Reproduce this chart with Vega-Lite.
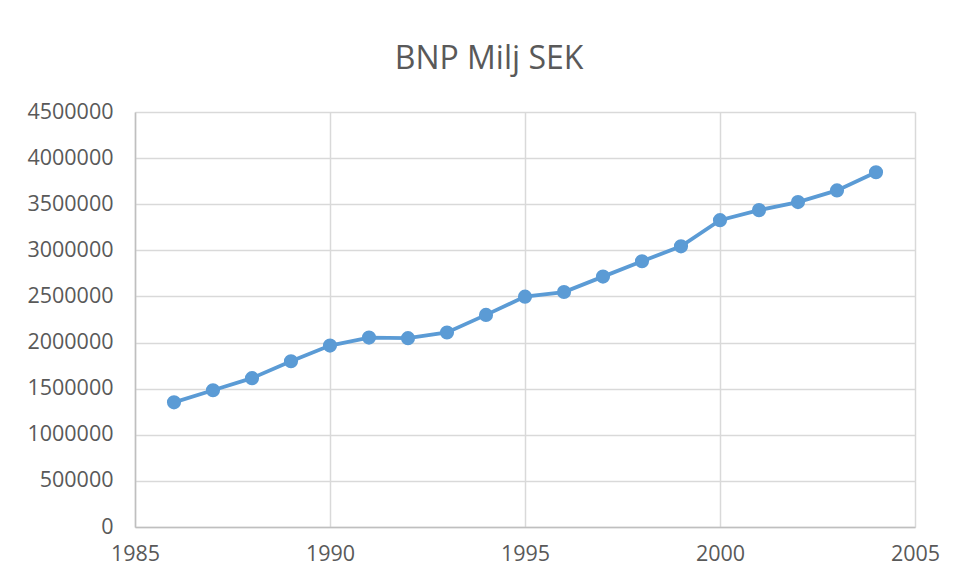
{
  "$schema": "https://vega.github.io/schema/vega-lite/v6.json",
  "width": 780,
  "height": 415,
  "autosize": {"type": "none"},
  "padding": {"left": 135, "top": 112, "right": 45, "bottom": 56},
  "background": "white",
  "title": {
    "text": "BNP Milj SEK",
    "anchor": "middle",
    "frame": "group",
    "dx": -36,
    "offset": 25,
    "fontSize": 32,
    "font": "Open Sans",
    "fontWeight": "normal",
    "color": "#595959"
  },
  "data": {
    "values": [
      {"year": 1986, "value": 1352000},
      {"year": 1987, "value": 1483000},
      {"year": 1988, "value": 1614000},
      {"year": 1989, "value": 1797000},
      {"year": 1990, "value": 1967000},
      {"year": 1991, "value": 2054000},
      {"year": 1992, "value": 2048000},
      {"year": 1993, "value": 2109000},
      {"year": 1994, "value": 2300000},
      {"year": 1995, "value": 2498000},
      {"year": 1996, "value": 2548000},
      {"year": 1997, "value": 2715000},
      {"year": 1998, "value": 2882000},
      {"year": 1999, "value": 3043000},
      {"year": 2000, "value": 3327000},
      {"year": 2001, "value": 3436000},
      {"year": 2002, "value": 3523000},
      {"year": 2003, "value": 3650000},
      {"year": 2004, "value": 3847000}
    ]
  },
  "mark": {
    "type": "line",
    "color": "#5B9BD5",
    "strokeWidth": 3.8,
    "point": {"filled": true, "size": 200, "color": "#5B9BD5", "opacity": 1}
  },
  "encoding": {
    "x": {
      "field": "year",
      "type": "quantitative",
      "scale": {"domain": [1985, 2005], "nice": false, "zero": false},
      "axis": {
        "title": null,
        "values": [1985, 1990, 1995, 2000, 2005],
        "format": "d",
        "labelPadding": 16,
        "labelFlush": false,
        "labelOverlap": false
      }
    },
    "y": {
      "field": "value",
      "type": "quantitative",
      "scale": {"domain": [0, 4500000], "nice": false},
      "axis": {
        "title": null,
        "values": [0, 500000, 1000000, 1500000, 2000000, 2500000, 3000000, 3500000, 4000000, 4500000],
        "format": "d",
        "labelPadding": 22,
        "labelOverlap": false
      }
    }
  },
  "config": {
    "view": {"stroke": null},
    "axis": {
      "grid": true,
      "gridColor": "#D9D9D9",
      "gridWidth": 1.5,
      "domainColor": "#BFBFBF",
      "domainWidth": 1.5,
      "ticks": false,
      "labelFont": "Open Sans",
      "labelFontSize": 21.5,
      "labelColor": "#595959"
    }
  }
}
